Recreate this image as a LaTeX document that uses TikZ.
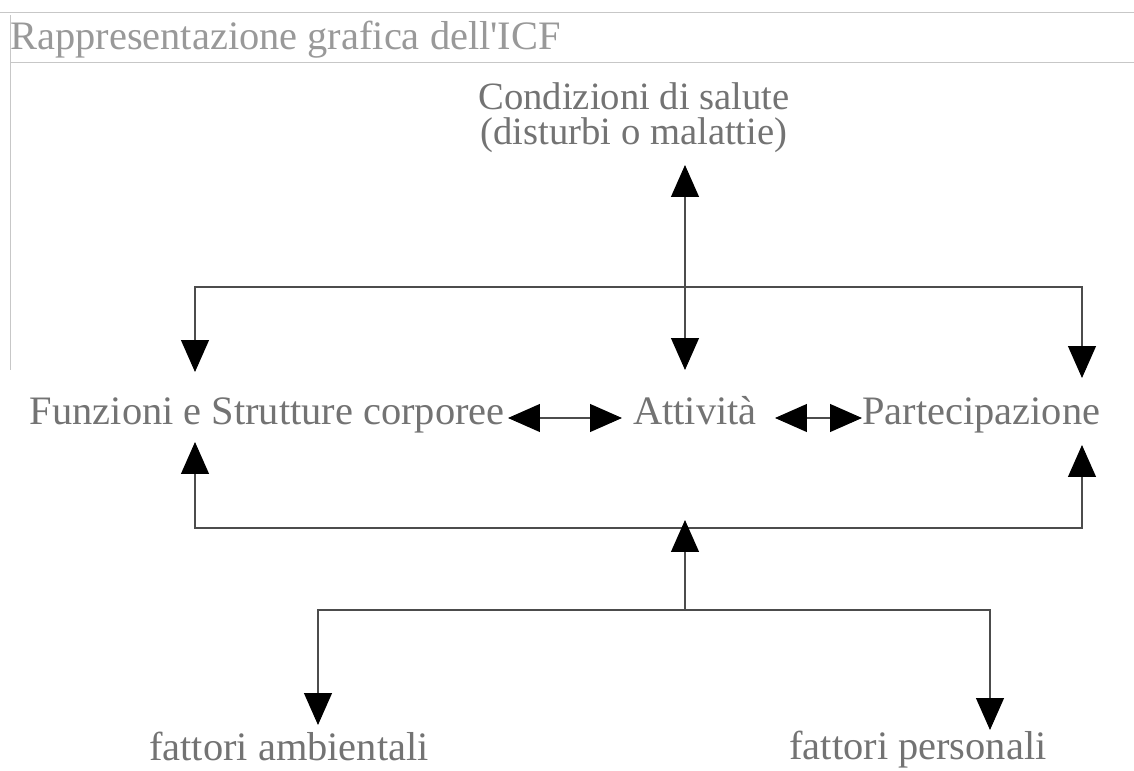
\documentclass[tikz,border=0pt]{standalone}
\usepackage{fontspec}
\setmainfont{Liberation Serif}
\usetikzlibrary{arrows.meta}
\tikzset{
    icf diagram/.style = {x=0.02cm, y=-0.02cm,
                          >={Triangle[length=6.4mm, width=5.6mm, color=black]}},
    line/.style        = {draw=black!70, line width=0.6pt},
    frame/.style       = {draw=black!22, line width=0.5pt},
    txt/.style         = {text=black!55, inner sep=0pt,
                          font=\fontsize{23}{20}\selectfont},
    title/.style       = {txt, text=black!40}
}
\begin{document}
\begin{tikzpicture}[icf diagram]
\useasboundingbox[fill=white] (0,0) rectangle (1134,771);

% ================= Scanned frame =================
\draw[frame] (0,12) -- (1134,12);
\draw[frame] (10,62) -- (1134,62);
\draw[frame] (10,15) -- (10,370);
\node[title, anchor=west] (titolo) at (10,40) {Rappresentazione grafica dell\textquotesingle ICF};

% ================= Components =================
\node[txt, align=center, font=\fontsize{22}{20}\selectfont] (salute) at (634,118)
     {Condizioni di salute\\(disturbi o malattie)};
\node[txt, anchor=base east] (funzioni) at (505,424) {Funzioni e Strutture corporee};
\node[txt, anchor=base] (attivita) at (695,424) {Attività};
\node[txt, anchor=base west] (partecip) at (862,424) {Partecipazione};
\node[txt] (ambient) at (289,746) {fattori ambientali};
\node[txt] (person) at (918,750) {fattori personali};

% ================= Junction points =================
\coordinate (salute tip) at (685,165);
\coordinate (att top) at (685,370);
\coordinate (funz top) at (195,372);
\coordinate (part top) at (1082,378);
\coordinate (funz bot) at (195,442);
\coordinate (part bot) at (1082,445);
\coordinate (att bot) at (685,520);
\coordinate (ctx) at (685,610);
\coordinate (amb tip) at (318,725);
\coordinate (pers tip) at (990,730);

% ================= Interactions =================
\draw[line, <->] (salute tip) -- (att top);
\draw[line, <->] (funz top) -- (funz top |- 0,287) -- (part top |- 0,287) -- (part top);
\draw[line, <->] (funzioni.east |- 0,418) ++(3,0) coordinate (f e) -- (622,418);
\draw[line, <->] (775,418) -- (partecip.west |- 0,418);
\draw[line, <->] (funz bot) -- (funz bot |- 0,528) -- (part bot |- 0,528) -- (part bot);
\draw[line, ->] (ctx) -- (att bot);
\draw[line, <->] (amb tip) -- (amb tip |- ctx) -- (pers tip |- ctx) -- (pers tip);

\end{tikzpicture}
\end{document}
